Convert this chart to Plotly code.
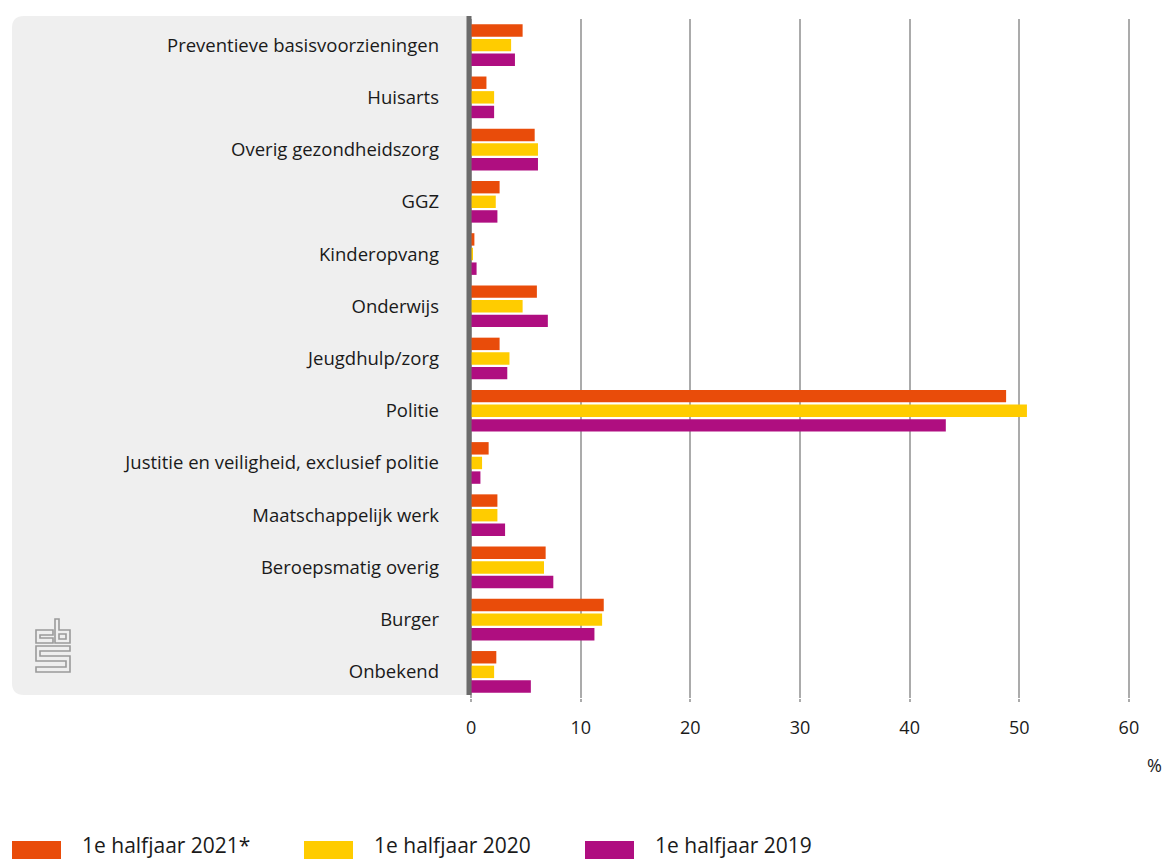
import plotly.graph_objects as go

categories = [
    "Preventieve basisvoorzieningen", "Huisarts", "Overig gezondheidszorg", "GGZ",
    "Kinderopvang", "Onderwijs", "Jeugdhulp/zorg", "Politie",
    "Justitie en veiligheid, exclusief politie", "Maatschappelijk werk",
    "Beroepsmatig overig", "Burger", "Onbekend",
]
series_names = ["1e halfjaar 2021*", "1e halfjaar 2020", "1e halfjaar 2019"]
values_2021 = [4.7, 1.4, 5.8, 2.6, 0.3, 6.0, 2.6, 48.8, 1.6, 2.4, 6.8, 12.1, 2.3]
values_2020 = [3.65, 2.1, 6.1, 2.25, 0.15, 4.7, 3.5, 50.7, 1.0, 2.4, 6.65, 11.95, 2.1]
values_2019 = [4.0, 2.1, 6.1, 2.4, 0.5, 7.0, 3.3, 43.3, 0.85, 3.1, 7.5, 11.25, 5.45]
colors = ["#E94C0A", "#FFCC00", "#AF0E80"]
x_ticks = [0, 10, 20, 30, 40, 50, 60]

W, H = 1168, 859
L, R, T, B = 470, 1130, 19, 698
FONT = "Open Sans"
TXT = "#1A1A1A"

def px(x):
    return (x - L) / (R - L)

def py(y):
    return (B - y) / (B - T)

fig = go.Figure()
for name, vals, col in zip(series_names, [values_2021, values_2020, values_2019], colors):
    fig.add_trace(go.Bar(
        y=categories, x=vals, name=name, orientation="h",
        marker=dict(color=col, line=dict(width=0)),
        hovertemplate="%{y}: %{x}%<extra>" + name + "</extra>",
    ))

shapes = []
annotations = []
# grey label panel with rounded left corners
r = 12
x0, x1, y0, y1 = 12, 469, 16, 695
path = (f"M {px(x1)},{py(y0)} L {px(x0 + r)},{py(y0)} "
        f"Q {px(x0)},{py(y0)} {px(x0)},{py(y0 + r)} "
        f"L {px(x0)},{py(y1 - r)} Q {px(x0)},{py(y1)} {px(x0 + r)},{py(y1)} "
        f"L {px(x1)},{py(y1)} Z")
shapes.append(dict(type="path", path=path, xref="paper", yref="paper",
                   fillcolor="#EFEFEF", line=dict(width=0), layer="below"))

# cbs logo (outline style)
def poly_path(pts):
    return "M " + " L ".join(f"{px(a)},{py(b)}" for a, b in pts) + " Z"

logo_parts = [
    [(36, 630), (53, 630), (53, 635), (40, 635), (40, 638), (53, 638), (53, 643), (36, 643)],
    [(55, 619), (59, 619), (59, 630), (70, 630), (70, 643), (55, 643)],
    [(59, 634), (66, 634), (66, 639), (59, 639)],
    [(36, 646), (70, 646), (70, 651), (40, 651), (40, 656), (70, 656), (70, 672),
     (36, 672), (36, 667), (66, 667), (66, 661), (36, 661)],
]
for pts in logo_parts:
    shapes.append(dict(type="path", path=poly_path(pts), xref="paper", yref="paper",
                       line=dict(color="#9A9A9A", width=1.6), fillcolor="rgba(0,0,0,0)",
                       layer="above"))

# zero axis line (slightly left of zero so tiny bars stay visible)
shapes.append(dict(type="line", xref="paper", yref="paper", x0=px(469), x1=px(469),
                   y0=py(695), y1=py(16),
                   line=dict(color="#6B6B6B", width=5), layer="above"))

# legend drawn as swatches + text
legend_rect_x = [12, 304, 585]
legend_text_x = [80, 372, 653]
for name, col, rx, tx in zip(series_names, colors, legend_rect_x, legend_text_x):
    shapes.append(dict(type="rect", xref="paper", yref="paper",
                       x0=px(rx), x1=px(rx + 49), y0=py(841), y1=py(860),
                       fillcolor=col, line=dict(width=0)))
    annotations.append(dict(text=name, xref="paper", yref="paper", x=px(tx), y=py(845),
                            xanchor="left", yanchor="middle", showarrow=False,
                            font=dict(size=21, color=TXT)))

annotations.append(dict(text="%", xref="paper", yref="paper", x=px(1164), y=py(765),
                        xanchor="right", yanchor="middle", showarrow=False,
                        font=dict(size=18, color=TXT)))

fig.update_layout(
    width=W, height=H,
    margin=dict(l=L, r=W - R, t=T, b=H - B),
    paper_bgcolor="white", plot_bgcolor="white",
    barmode="group", bargap=0.16, bargroupgap=0.15,
    font=dict(family=FONT, size=18, color=TXT),
    shapes=shapes, annotations=annotations,
    showlegend=False,
)
fig.update_xaxes(range=[-0.1, 60.1], tickvals=x_ticks, showgrid=True, gridcolor="#ABABAB",
                 gridwidth=2, zeroline=False, ticks="outside", ticklen=3, tickwidth=2,
                 tickcolor="#ABABAB", ticklabelstandoff=10, showline=False,
                 tickfont=dict(size=18), automargin=False)
fig.update_yaxes(autorange="reversed", showgrid=False, zeroline=False, ticks="",
                 ticklabelstandoff=30, tickfont=dict(size=18.5), showline=False,
                 automargin=False)

fig.write_html("out.html", config={"displayModeBar": False},
               post_script="document.body.style.margin='0';"
               "document.body.style.overflow='hidden';")
